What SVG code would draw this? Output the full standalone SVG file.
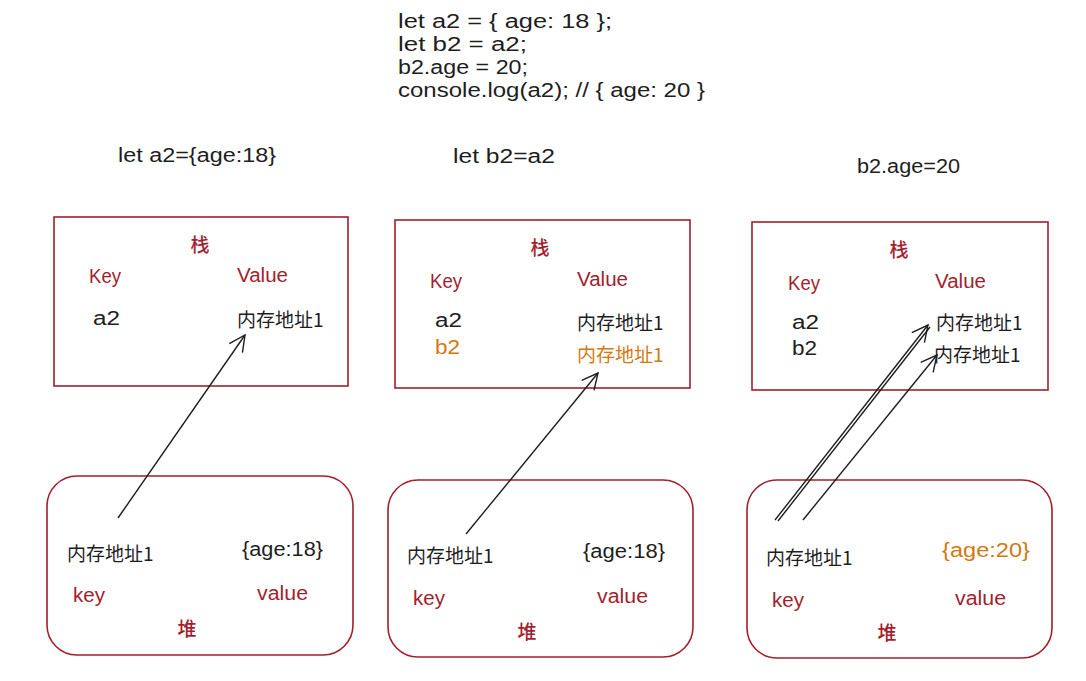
<svg xmlns="http://www.w3.org/2000/svg" width="1086" height="681" viewBox="0 0 1086 681">
<style>
.hand{font-family:"Liberation Sans","DejaVu Sans",sans-serif;font-size:20px;fill:#1e1e1e}
.code{font-family:"Liberation Sans","DejaVu Sans",sans-serif;font-size:20px;fill:#1e1e1e}
.cjk{font-family:"Noto Sans CJK SC","Noto Sans",sans-serif;font-size:19px;fill:#1e1e1e}
.hd{font-weight:500;font-size:19px}
.red{fill:#a31f2e}
.org{fill:#d4790f}
.box{fill:none;stroke:#a31f2e;stroke-width:1.6}
.conn{fill:none;stroke:#1e1e1e;stroke-width:1.4}
</style>
<defs>
<marker id="ah" viewBox="0 0 20 20" refX="18" refY="10" markerWidth="20" markerHeight="20" markerUnits="userSpaceOnUse" orient="auto">
<path d="M2,2 L18,10 L2,18" fill="none" stroke="#1e1e1e" stroke-width="1.4"/>
</marker>
</defs>
<rect width="1086" height="681" fill="#ffffff"/>

<g id="code">
<text class="code" x="398" y="28" textLength="214" lengthAdjust="spacingAndGlyphs">let a2 = { age: 18 };</text>
<text class="code" x="398" y="51" textLength="129" lengthAdjust="spacingAndGlyphs">let b2 = a2;</text>
<text class="code" x="398" y="74" textLength="130" lengthAdjust="spacingAndGlyphs">b2.age = 20;</text>
<text class="code" x="398" y="97" textLength="307" lengthAdjust="spacingAndGlyphs">console.log(a2); // { age: 20 }</text>
</g>

<g id="title1"><text class="hand" x="118" y="162" textLength="158" lengthAdjust="spacingAndGlyphs">let a2={age:18}</text></g>
<g id="title2"><text class="hand" x="453" y="163" textLength="102" lengthAdjust="spacingAndGlyphs">let b2=a2</text></g>
<g id="title3"><text class="hand" x="857" y="173" textLength="103" lengthAdjust="spacingAndGlyphs">b2.age=20</text></g>

<g id="stack1">
<rect class="box" x="54" y="217" width="294" height="169"/>
<text class="cjk hd red" x="200" y="252" text-anchor="middle">栈</text>
<text class="hand red" x="89" y="283" textLength="32" lengthAdjust="spacingAndGlyphs">Key</text>
<text class="hand red" x="237" y="282" textLength="51" lengthAdjust="spacingAndGlyphs">Value</text>
<text class="hand" x="93" y="325" textLength="27" lengthAdjust="spacingAndGlyphs">a2</text>
<text class="cjk" x="237" y="327">内存地址1</text>
</g>

<g id="heap1">
<rect class="box" x="47" y="476" width="306" height="179" rx="30"/>
<text class="cjk" x="67" y="561">内存地址1</text>
<text class="hand" x="242" y="556" textLength="81" lengthAdjust="spacingAndGlyphs">{age:18}</text>
<text class="hand red" x="73" y="602" textLength="32" lengthAdjust="spacingAndGlyphs">key</text>
<text class="hand red" x="257" y="600" textLength="51" lengthAdjust="spacingAndGlyphs">value</text>
<text class="cjk hd red" x="187" y="636" text-anchor="middle">堆</text>
</g>

<g id="stack2">
<rect class="box" x="395" y="220" width="295" height="168"/>
<text class="cjk hd red" x="540" y="255" text-anchor="middle">栈</text>
<text class="hand red" x="430" y="288" textLength="32" lengthAdjust="spacingAndGlyphs">Key</text>
<text class="hand red" x="577" y="286" textLength="51" lengthAdjust="spacingAndGlyphs">Value</text>
<text class="hand" x="435" y="327" textLength="27" lengthAdjust="spacingAndGlyphs">a2</text>
<text class="hand org" x="435" y="354" textLength="25" lengthAdjust="spacingAndGlyphs">b2</text>
<text class="cjk" x="577" y="330">内存地址1</text>
<text class="cjk org" x="577" y="362">内存地址1</text>
</g>

<g id="heap2">
<rect class="box" x="388" y="480" width="305" height="177" rx="30"/>
<text class="cjk" x="407" y="563">内存地址1</text>
<text class="hand" x="583" y="558" textLength="82" lengthAdjust="spacingAndGlyphs">{age:18}</text>
<text class="hand red" x="413" y="605" textLength="32" lengthAdjust="spacingAndGlyphs">key</text>
<text class="hand red" x="597" y="603" textLength="51" lengthAdjust="spacingAndGlyphs">value</text>
<text class="cjk hd red" x="527" y="639" text-anchor="middle">堆</text>
</g>

<g id="stack3">
<rect class="box" x="752" y="222" width="296" height="168"/>
<text class="cjk hd red" x="899" y="257" text-anchor="middle">栈</text>
<text class="hand red" x="788" y="290" textLength="32" lengthAdjust="spacingAndGlyphs">Key</text>
<text class="hand red" x="935" y="288" textLength="51" lengthAdjust="spacingAndGlyphs">Value</text>
<text class="hand" x="792" y="329" textLength="27" lengthAdjust="spacingAndGlyphs">a2</text>
<text class="hand" x="792" y="355" textLength="25" lengthAdjust="spacingAndGlyphs">b2</text>
<text class="cjk" x="936" y="330">内存地址1</text>
<text class="cjk" x="934" y="362">内存地址1</text>
</g>

<g id="heap3">
<rect class="box" x="747" y="480" width="305" height="178" rx="30"/>
<text class="cjk" x="766" y="565">内存地址1</text>
<text class="hand org" x="942" y="557" textLength="88" lengthAdjust="spacingAndGlyphs">{age:20}</text>
<text class="hand red" x="772" y="607" textLength="32" lengthAdjust="spacingAndGlyphs">key</text>
<text class="hand red" x="955" y="605" textLength="51" lengthAdjust="spacingAndGlyphs">value</text>
<text class="cjk hd red" x="887" y="640" text-anchor="middle">堆</text>
</g>

<g id="connectors">
<line class="conn" x1="118" y1="518" x2="245" y2="335" marker-end="url(#ah)"/>
<line class="conn" x1="466" y1="534" x2="598" y2="373" marker-end="url(#ah)"/>
<line class="conn" x1="775" y1="520" x2="928" y2="325" marker-end="url(#ah)"/>
<line class="conn" x1="778" y1="521" x2="930" y2="327"/>
<line class="conn" x1="803" y1="520" x2="937" y2="355" marker-end="url(#ah)"/>
</g>
</svg>
